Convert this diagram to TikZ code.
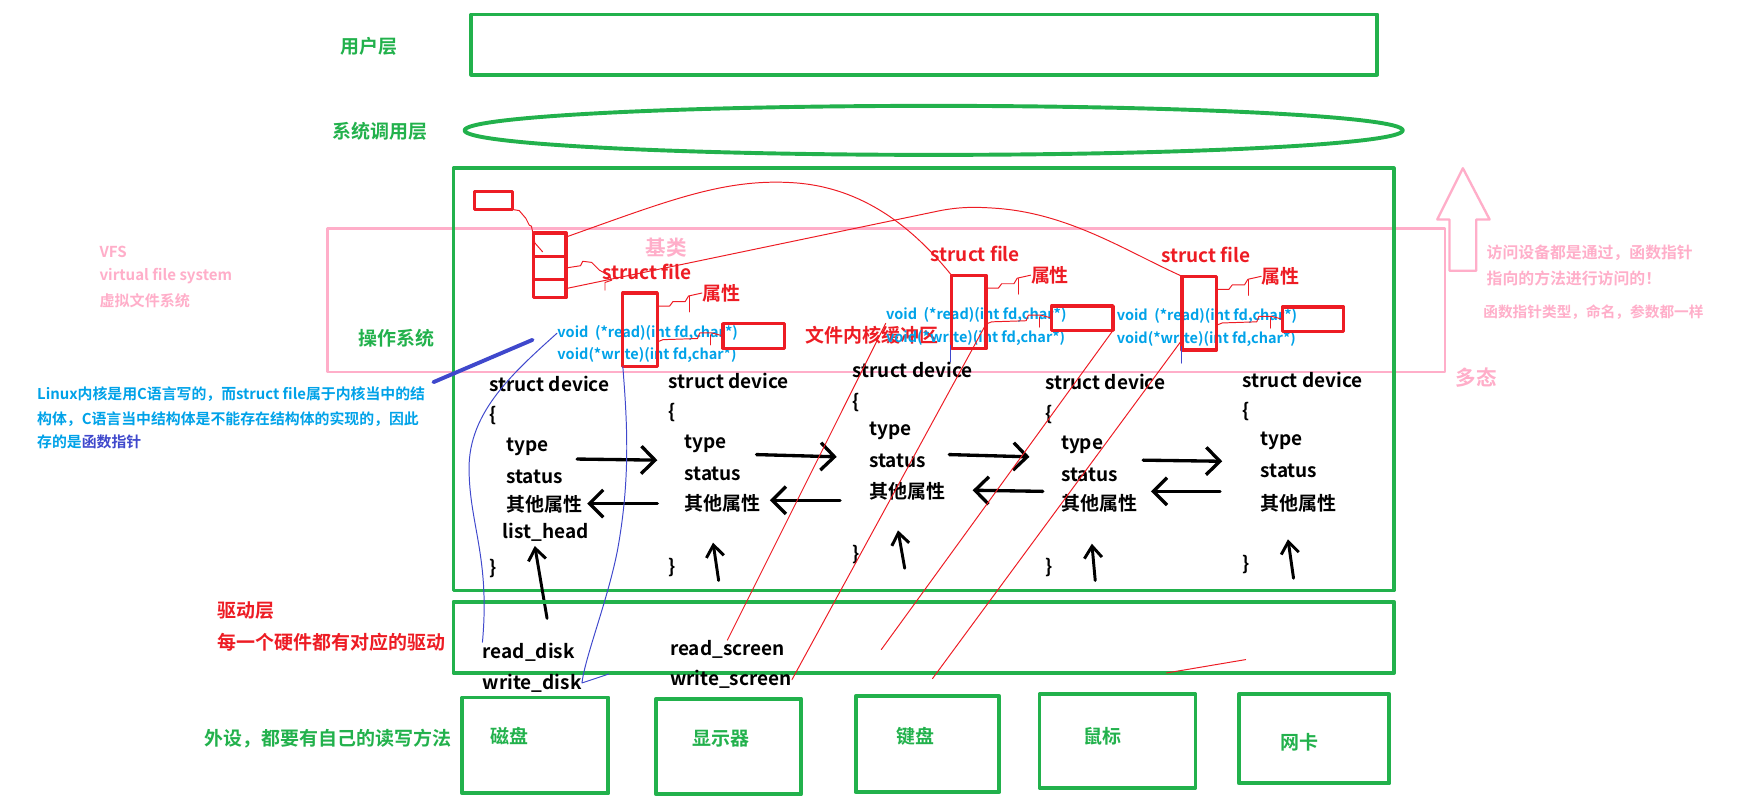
\documentclass[tikz,border=0pt]{standalone}
\usepackage{fontspec}
\setmainfont{Noto Sans CJK SC}[BoldFont={Noto Sans CJK SC Bold}]
\usetikzlibrary{arrows.meta}
\definecolor{pgreen}{HTML}{22B14C}
\definecolor{pred}{HTML}{ED1C24}
\definecolor{ppink}{HTML}{FFAEC9}
\definecolor{pblue}{HTML}{00A2E8}
\definecolor{pindigo}{HTML}{3F48CC}
\begin{document}
\begin{tikzpicture}[x=0.02cm, y=-0.02cm, line cap=round, line join=round,
    txt/.style={inner sep=0pt, anchor=west, font=\bfseries\fontsize{9.7}{11}\selectfont},
    glbl/.style={txt, text=pgreen},
    rlbl/.style={txt, text=pred},
    plbl/.style={txt, text=ppink, font=\bfseries\fontsize{10.5}{12}\selectfont},
    fnp/.style={txt, text=pblue, font=\bfseries\fontsize{7.4}{9}\selectfont},
    note/.style={txt, text=pblue, font=\bfseries\fontsize{7.6}{9}\selectfont},
    pnote/.style={txt, text=ppink, font=\bfseries\fontsize{8.1}{10}\selectfont},
    gbox/.style={draw=pgreen, line width=2pt},
    rbox/.style={draw=pred, line width=1.7pt, inner sep=0pt, outer sep=0pt},
    wire/.style={draw=pred, line width=0.5pt},
    bwire/.style={draw=pindigo, line width=0.5pt},
    rarr/.style={line width=1.7pt, -{Straight Barb[length=7pt, width=14pt]}},
    uarr/.style={line width=1.5pt, -{Straight Barb[length=6pt, width=9pt]}}]
  \useasboundingbox (0,0) rectangle (1568,718);
  % 用户层 / 系统调用层
  \node[glbl, anchor=center] (yhc) at (331,42) {用户层};
  \draw[gbox] (423,13) rectangle (1236,67);
  \node[glbl, anchor=center] (xtdy) at (341,118) {系统调用层};
  \draw[gbox] (838,117) ellipse [x radius=421, y radius=22];
  % VFS 框（粉色）
  \draw[ppink, line width=1.2pt] (294,205) rectangle (1297,334);
  \node[txt, text=ppink, font=\bfseries\fontsize{7.7}{9}\selectfont] (vfs1) at (89,226) {VFS};
  \node[txt, text=ppink, font=\bfseries\fontsize{7.7}{9}\selectfont] (vfs2) at (89,248) {virtual file system};
  \node[txt, text=ppink, font=\bfseries\fontsize{7.7}{9}\selectfont] (vfs3) at (89,270) {虚拟文件系统};
  \node[plbl, anchor=center] (jl) at (598,222) {基类};
  \node[plbl, anchor=center] (dt) at (1325,339) {多态};
  \draw[ppink, line width=1.2pt] (1313,151) -- (1337,197) -- (1325,197) -- (1325,243)
    -- (1301,243) -- (1301,197) -- (1290,197) -- cycle;
  \node[pnote] (pn1) at (1334,227) {访问设备都是通过，函数指针};
  \node[pnote] (pn2) at (1334,250) {指向的方法进行访问的！};
  \node[pnote, font=\bfseries\fontsize{7.5}{9}\selectfont] (pn3) at (1331,280) {函数指针类型，命名，参数都一样};
  % 操作系统
  \draw[gbox] (407,151) rectangle (1251,530);
  \node[glbl, anchor=center] (czxt) at (356,304) {操作系统};
  % 左侧说明
  \node[note] (n1) at (33,354) {Linux内核是用C语言写的，而struct file属于内核当中的结};
  \node[note] (n2) at (33,376) {构体，C语言当中结构体是不能存在结构体的实现的，因此};
  \node[note] (n3) at (33,397) {存的是{\color{pindigo}函数指针}};
  % struct file（一）
  \begin{scope}
    \node[rlbl] (sf1) at (540,244) {struct file};
    \node[rlbl] (sx1) at (630,263) {属性};
    \node[fnp] (rd1) at (500,299) {void\ \ (*read)(int fd,char*)};
    \node[fnp] (wr1) at (500,319) {void(*write)(int fd,char*)};
    \node[rlbl] (hcq) at (723,301) {文件内核缓冲区};
    \node[rbox, minimum width=0.68cm, minimum height=0.32cm] (sm) at (443,180) {};
    \node[rbox, minimum width=0.58cm, minimum height=0.42cm] (fa) at (493.5,219.5) {};
    \node[rbox, minimum width=0.58cm, minimum height=0.42cm] (fb) at (493.5,240.5) {};
    \node[rbox, minimum width=0.58cm, minimum height=0.32cm] (fc) at (493.5,259) {};
    \node[rbox, minimum width=0.62cm, minimum height=1.32cm] (pt1) at (574.5,296) {};
    \node[rbox, minimum width=1.1cm, minimum height=0.44cm] (bf1) at (676.5,301.5) {};
    \draw[wire] (sm.south east) -- ++(6,1) -- ++(6,7) -- ++(3,6) -- ++(2,1) -- ++(3,15) -- ++(7,8);
    \draw[wire] (fb.east) -- ++(13,-2) -- ++(2,-4) -- ++(8,1) -- ++(7,7) -- ++(9,5) -- ++(2,4) -- ++(-6,2) -- ++(0,7);
    \draw[wire] (pt1.54) -- ++(11,0) -- ++(3,-4) -- ++(11,0) -- ++(3,-5) -- (sx1.west);
    \draw[wire] (sx1.west) ++(-11,3) -- ++(0,14);
    \draw[wire] (pt1.-35) -- ++(5,-2) -- ++(31,-1) -- ++(2,-5) -- ++(11,0) -- (bf1.west);
    \draw[wire] (bf1.west) ++(-11,-1) -- ++(0,9);
  \end{scope}
  % struct file（二）
  \begin{scope}[shift={(295,-16)}]
    \node[rlbl] (sf2) at (540,244) {struct file};
    \node[rlbl] (sx2) at (630,263) {属性};
    \node[fnp] (rd2) at (500,299) {void\ \ (*read)(int fd,char*)};
    \node[fnp] (wr2) at (500,319) {void(*write)(int fd,char*)};
    \node[rbox, minimum width=0.62cm, minimum height=1.32cm] (pt2) at (574.5,296) {};
    \node[rbox, minimum width=1.1cm, minimum height=0.44cm] (bf2) at (676.5,301.5) {};
    \draw[wire] (pt2.54) -- ++(11,0) -- ++(3,-4) -- ++(11,0) -- ++(3,-5) -- (sx2.west);
    \draw[wire] (sx2.west) ++(-11,3) -- ++(0,14);
    \draw[wire] (pt2.-35) -- ++(5,-2) -- ++(31,-1) -- ++(2,-5) -- ++(11,0) -- (bf2.west);
    \draw[wire] (bf2.west) ++(-11,-1) -- ++(0,9);
    \draw[bwire] (pt2.south west) ++(-1,-3) -- ++(0,15);
  \end{scope}
  % struct file（三）
  \begin{scope}[shift={(502,-15)}]
    \node[rlbl] (sf3) at (540,244) {struct file};
    \node[rlbl] (sx3) at (630,263) {属性};
    \node[fnp] (rd3) at (500,299) {void\ \ (*read)(int fd,char*)};
    \node[fnp] (wr3) at (500,319) {void(*write)(int fd,char*)};
    \node[rbox, minimum width=0.62cm, minimum height=1.32cm] (pt3) at (574.5,296) {};
    \node[rbox, minimum width=1.1cm, minimum height=0.44cm] (bf3) at (676.5,301.5) {};
    \draw[wire] (pt3.54) -- ++(11,0) -- ++(3,-4) -- ++(11,0) -- ++(3,-5) -- (sx3.west);
    \draw[wire] (sx3.west) ++(-11,3) -- ++(0,14);
    \draw[wire] (pt3.-35) -- ++(5,-2) -- ++(31,-1) -- ++(2,-5) -- ++(11,0) -- (bf3.west);
    \draw[wire] (bf3.west) ++(-11,-1) -- ++(0,9);
    \draw[bwire] (pt3.south west) ++(-1,-3) -- ++(0,15);
  \end{scope}
  \draw[wire] (fa.25) .. controls (600,180) and (650,160) .. (712,164)
    .. controls (775,168) and (820,205) .. (pt2.north west);
  \draw[wire] (fc.east) -- (844,189) .. controls (865,185) and (880,186) .. (895,187)
    .. controls (960,192) and (1010,225) .. (pt3.north west);
  % struct device 链表
  \begin{scope}[shift={(439,345)}]
    \node[txt] (d1) at (0,0) {struct device};
    \node[txt] (d1o) at (0,28) {\{};
    \node[txt] (d1t) at (15,56) {type};
    \node[txt] (d1s) at (15,83) {status};
    \node[txt] (d1p) at (15,108) {其他属性};
    \node[txt] (d1l) at (12,133) {list\_head};
    \node[txt] (d1c) at (0,165) {\}};
  \end{scope}
  \begin{scope}[shift={(600,342)}]
    \node[txt] (d2) at (0,0) {struct device};
    \node[txt] (d2o) at (0,28) {\{};
    \node[txt] (d2t) at (14,56) {type};
    \node[txt] (d2s) at (14,83) {status};
    \node[txt] (d2p) at (14,110) {其他属性};
    \node[txt] (d2c) at (0,167) {\}};
  \end{scope}
  \begin{scope}[shift={(765,332)}]
    \node[txt] (d3) at (0,0) {struct device};
    \node[txt] (d3o) at (0,29) {\{};
    \node[txt] (d3t) at (15,55) {type};
    \node[txt] (d3s) at (15,82) {status};
    \node[txt] (d3p) at (15,109) {其他属性};
    \node[txt] (d3c) at (0,166) {\}};
  \end{scope}
  \begin{scope}[shift={(938,343)}]
    \node[txt] (d4) at (0,0) {struct device};
    \node[txt] (d4o) at (0,29) {\{};
    \node[txt] (d4t) at (14,56) {type};
    \node[txt] (d4s) at (14,83) {status};
    \node[txt] (d4p) at (14,109) {其他属性};
    \node[txt] (d4c) at (0,166) {\}};
  \end{scope}
  \begin{scope}[shift={(1115,341)}]
    \node[txt] (d5) at (0,0) {struct device};
    \node[txt] (d5o) at (0,28) {\{};
    \node[txt] (d5t) at (16,55) {type};
    \node[txt] (d5s) at (16,82) {status};
    \node[txt] (d5p) at (16,111) {其他属性};
    \node[txt] (d5c) at (0,166) {\}};
  \end{scope}
  \coordinate (r1s) at (518,412);  \coordinate (r1e) at (590,413);
  \coordinate (r2s) at (679,408);  \coordinate (r2e) at (751,410);
  \coordinate (r3s) at (852,408);  \coordinate (r3e) at (924,410);
  \coordinate (r4s) at (1026,413); \coordinate (r4e) at (1097,414);
  \coordinate (l1s) at (590,452);  \coordinate (l1e) at (527,452);
  \coordinate (l2s) at (754,449);  \coordinate (l2e) at (691,449);
  \coordinate (l3s) at (936,441);  \coordinate (l3e) at (873,440);
  \coordinate (l4s) at (1095,441); \coordinate (l4e) at (1033,441);
  \draw[rarr] (r1s) -- (r1e);
  \draw[rarr] (r2s) -- (r2e);
  \draw[rarr] (r3s) -- (r3e);
  \draw[rarr] (r4s) -- (r4e);
  \draw[rarr] (l1s) -- (l1e);
  \draw[rarr] (l2s) -- (l2e);
  \draw[rarr] (l3s) -- (l3e);
  \draw[rarr] (l4s) -- (l4e);
  \coordinate (u1s) at (491,555);  \coordinate (u1e) at (480,490);
  \coordinate (u2s) at (645,521);  \coordinate (u2e) at (640,487);
  \coordinate (u3s) at (812,510);  \coordinate (u3e) at (806,476);
  \coordinate (u4s) at (983,521);  \coordinate (u4e) at (980,488);
  \coordinate (u5s) at (1161,519); \coordinate (u5e) at (1156,484);
  \draw[uarr] (u1s) -- (u1e);
  \draw[uarr] (u2s) -- (u2e);
  \draw[uarr] (u3s) -- (u3e);
  \draw[uarr] (u4s) -- (u4e);
  \draw[uarr] (u5s) -- (u5e);
  % 驱动层
  \draw[gbox] (407,540) rectangle (1251,604);
  \node[rlbl] (qdc) at (195,548) {驱动层};
  \node[rlbl] (qdc2) at (195,576) {每一个硬件都有对应的驱动};
  \node[txt] (rdk) at (433,585) {read\_disk};
  \node[txt] (wdk) at (433,613) {write\_disk};
  \node[txt] (rs) at (601,583) {read\_screen};
  \node[txt] (ws) at (601,610) {write\_screen};
  % 外设
  \node[glbl] (wsh) at (183,663) {外设，都要有自己的读写方法};
  \draw[gbox] (415,626) rectangle (546,712);
  \node[glbl] (cp) at (440,661) {磁盘};
  \draw[gbox] (589,627) rectangle (719,713);
  \node[glbl] (xsq) at (621,663) {显示器};
  \draw[gbox] (768,625) rectangle (897,711);
  \node[glbl] (jp) at (804,661) {键盘};
  \draw[gbox] (933,623) rectangle (1073,707);
  \node[glbl] (sb) at (972,661) {鼠标};
  \draw[gbox] (1112,623) rectangle (1247,703);
  \node[glbl] (wk) at (1149,666) {网卡};
  % 函数指针指向驱动
  \coordinate (tq) at (389,343); \coordinate (tp) at (478,305);
  \draw[pindigo, line width=2pt] (tq) -- (tp);
  \draw[bwire] (rd1.west) .. controls (460,335) and (421,370) .. (421,420)
    .. controls (421,470) and (440,500) .. (rdk.north west);
  \draw[bwire] (pt1.south west) .. controls (563,380) and (566,430) .. (554,495)
    .. controls (545,540) and (525,590) .. (wdk.east) -- ++(24,-8);
  \coordinate (k1) at (791,583); \coordinate (k2) at (837,609);
  \coordinate (k3) at (1047,604); \coordinate (k4) at (1118,592);
  \draw[wire] (rd2.south west) -- (rs.north);
  \draw[wire] (pt2.-35) -- (ws.east);
  \draw[wire] (bf2.south east) -- (k1);
  \draw[wire] (pt3.237) -- (k2);
  \draw[wire] (k3) -- (k4);
\end{tikzpicture}
\end{document}
